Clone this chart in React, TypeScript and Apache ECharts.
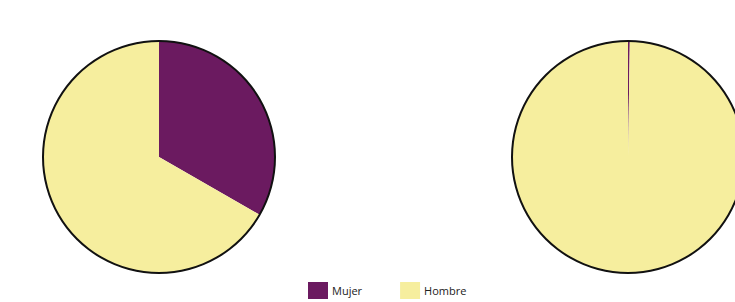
import React, { useEffect, useRef } from "react";
import * as echarts from "echarts";

const categories = ["Mujer", "Hombre"];
const leftValues = [33.3, 66.7];
const rightValues = [0.25, 99.75];
const colors = ["#6b1a60", "#f6ee9e"];

export default function App() {
  const ref = useRef<HTMLDivElement>(null);
  useEffect(() => {
    if (!ref.current) return;
    const chart = echarts.init(ref.current, null, { renderer: "svg" });
    const mk = (vals: number[]) => categories.map((c, i) => ({ name: c, value: vals[i] }));
    const pieBase = {
      type: "pie",
      radius: [0, 116],
      startAngle: 90,
      clockwise: true,
      label: { show: false },
      labelLine: { show: false },
      silent: true,
      itemStyle: { borderWidth: 0 },
      emphasis: { disabled: true },
    };
    const ring = (cx: number) => ({
      type: "pie",
      radius: [115, 117],
      center: [cx, 157],
      silent: true,
      label: { show: false },
      labelLine: { show: false },
      data: [{ name: "_ring", value: 1, itemStyle: { color: "#111" } }],
      legendHoverLink: false,
      emphasis: { disabled: true },
    });
    chart.setOption({
      animation: false,
      color: colors,
      legend: {
        data: categories,
        top: 282,
        left: 308,
        padding: 0,
        itemWidth: 20,
        itemHeight: 17,
        itemGap: 38,
        icon: "rect",
        selectedMode: false,
        textStyle: { fontFamily: "Open Sans", fontSize: 11, color: "#222", padding: [0, 0, 0, -1] },
      },
      series: [
        { ...pieBase, center: [159, 157], data: mk(leftValues) },
        { ...pieBase, center: [628, 157], data: mk(rightValues) },
        ring(159),
        ring(628),
      ],
    });
    return () => chart.dispose();
  }, []);
  return (
    <div
      ref={ref}
      style={{ position: "absolute", left: 0, top: 0, width: 735, height: 302, background: "#fff" }}
    />
  );
}
